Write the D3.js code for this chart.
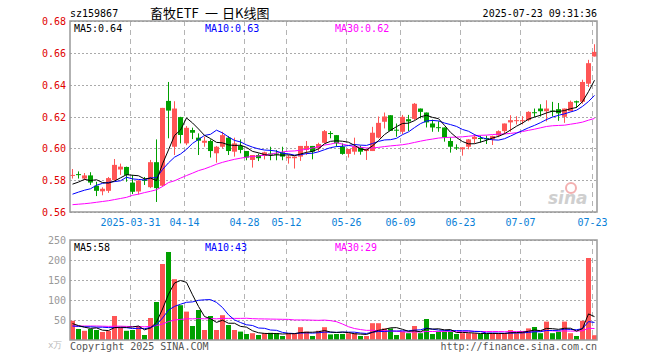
<!DOCTYPE html>
<html lang="zh">
<head>
<meta charset="UTF-8">
<title>畜牧ETF 日K线图</title>
<script src="https://cdn.jsdelivr.net/npm/d3@7"></script>
<style>
  body { margin: 0; background: #fff; }
  svg text { font-family: "DejaVu Sans Mono", monospace; }
</style>
</head>
<body>
<svg id="chart" width="660" height="360"></svg>
<script>
// daily candles, 2025-03-17 .. 2025-07-23 (88 trading days)
const opens = [
  .583,.5838,.581,.583,.5765,.573,.5733,.580,.5867,.5883,
  .5785,.5729,.5802,.5756,.5913,.5765,.6298,.601,.6196,.6031,
  .6115,.6067,.6035,.6046,.5969,.601,.6067,.5979,.6015,.5983,
  .5927,.5958,.5952,.5967,.5967,.5975,.5938,.5938,.5948,.599,
  .6015,.600,.6035,.6096,.6083,.601,.5965,.5979,.6004,.5983,
  .5983,.6067,.6167,.6208,.6117,.6104,.6183,.6185,.625,.6225,
  .6156,.6133,.6131,.6046,.6006,.5994,.601,.6058,.6065,.6065,
  .6058,.6081,.6108,.6163,.6175,.6175,.6177,.6227,.625,.6233,
  .6237,.6246,.6198,.6233,.6296,.6292,.6406,.6577
];
const highs = [
  .587,.5855,.5845,.585,.579,.5755,.582,.5933,.5904,.5885,
  .5833,.580,.582,.5927,.6056,.6254,.6417,.6296,.6198,.614,
  .613,.6094,.6073,.6056,.6015,.6104,.6077,.6067,.6056,.5983,
  .5958,.5967,.5979,.601,.599,.601,.5958,.5948,.6015,.6046,
  .6015,.6035,.6115,.6108,.6083,.6031,.5996,.6067,.6017,.5996,
  .6135,.620,.6225,.6208,.6156,.621,.621,.6285,.625,.6225,
  .618,.617,.6131,.6069,.6025,.6006,.6058,.609,.608,.608,
  .608,.6113,.6156,.6208,.6202,.6202,.6233,.625,.6277,.6302,
  .6292,.6285,.625,.630,.630,.6431,.6556,.6654
];
const lows = [
  .581,.581,.580,.577,.570,.5705,.572,.580,.5833,.579,
  .5713,.571,.577,.575,.5663,.5758,.6063,.5958,.6031,.602,
  .6058,.5958,.601,.5942,.591,.600,.5958,.5948,.5969,.5925,
  .5879,.592,.593,.5925,.5925,.5925,.5904,.5873,.5921,.5958,
  .5931,.598,.6031,.6063,.601,.596,.5942,.596,.596,.5927,
  .5983,.6063,.6125,.611,.6073,.609,.6108,.6177,.6188,.6131,
  .6104,.6104,.6042,.5973,.599,.5954,.5994,.603,.6035,.6027,
  .6021,.607,.609,.6104,.615,.615,.617,.6198,.620,.6169,
  .620,.6173,.616,.6233,.6254,.628,.6385,.6577
];
const closes = [
  .5833,.5832,.583,.5785,.5733,.5746,.5813,.5896,.5885,.5833,
  .5727,.5798,.5796,.5913,.575,.6254,.6237,.625,.6084,.6129,
  .6098,.6048,.6048,.5983,.601,.6083,.5983,.6031,.599,.5942,
  .5958,.5938,.5975,.5962,.5963,.5948,.5948,.5948,.6015,.6015,
  .5979,.6027,.6108,.6092,.6031,.5965,.5996,.601,.5979,.5996,
  .6098,.616,.620,.611,.6113,.6198,.6169,.628,.6229,.6163,
  .6131,.6129,.6069,.601,.600,.6006,.6056,.6073,.6061,.6057,
  .6077,.6108,.6156,.6177,.6177,.6177,.6229,.6223,.6233,.625,
  .6233,.622,.625,.6292,.6288,.6417,.6535,.6606
];
// volume, 万手
const volumes = [
  48,27.5,23,27.5,25,20,22.5,60,32,23,
  25,35,12.5,55,95,190,220,152,87,71,
  35,75,25,60,25,62,37.5,25,21,15,
  17,12.5,17,18,17,10,17,17,32,21,
  10,23,32,14,15,15,17,17,10,10,
  42,42,29,29,12.5,21,17,35,17,52.5,
  15,21,21,21,15,17,17,17,15,15,
  17,17,17,25,17,21,29,32.5,17,46,
  17,21,46,17,10,48,205,12
];

// moving-average values at the left edge, where the window starts before the chart
const ma5Head = [.5775,.5788,.5805,.5798];
const ma10Head = [.5712,.5725,.5737,.5746,.5768,.578,.5786,.5791,.5796];
const ma30Head = [
  .5646,.5649,.5652,.5656,.5661,.5666,.5671,.5678,.5685,.5692,
  .5705,.5712,.5722,.5730,.5740,.5760,.5785,.5796,.5813,.5829,
  .5844,.5860,.5871,.5885,.5900,.5912,.5922,.5931,.5938
];
const vma5Head = [41,36,32,29];
const vma10Head = [35,34,33,33,32,32,31,31,31];
const vma30Head = [
  35,35,35,35,35,34.5,34,34.5,34.5,34,
  33.5,33.5,33,34,36,40,46,50,51.5,53,
  53,53.5,53,53.5,53,54,54,54,54
];

const dateTickIdx = [10, 19, 29, 36, 46, 55, 65, 75, 87];
const dateTickLabels = ["2025-03-31","04-14","04-28","05-12","05-26","06-09","06-23","07-07","07-23"];
const priceTicks = [0.56, 0.58, 0.60, 0.62, 0.64, 0.66, 0.68];
const volTicks = [50, 100, 150, 200, 250];
const maLabels = ["MA5:0.64", "MA10:0.63", "MA30:0.62"];
const volMaLabels = ["MA5:58", "MA10:43", "MA30:29"];

const RED = "#ff5555", GREEN = "#00a000";
const maColors = ["#000000", "#0000ff", "#ff00ff"];

function movingAvg(vals, n, head) {
  return vals.map(function(v, i) {
    if (i < n - 1) return head[i];
    return d3.mean(vals.slice(i - n + 1, i + 1));
  });
}

const svg = d3.select("#chart");
const left = 70, right = 597;
const x = d3.scaleLinear().domain([0, closes.length - 1]).range([72, 72 + 6 * (closes.length - 1)]);
const y = d3.scaleLinear().domain([0.56, 0.68]).range([212, 21]);
const yv = d3.scaleLinear().domain([0, 250]).range([340, 240]);

// header
svg.append("text").attr("x", left).attr("y", 17).attr("font-size", 10).attr("fill", "#000").text("sz159867");
const cjk = "'Noto Sans CJK SC', sans-serif";
[["畜牧ETF", 150], ["一", 205], ["日K线图", 222]].forEach(function(p) {
  svg.append("text").attr("x", p[1]).attr("y", 18).attr("font-size", 13)
    .style("font-family", cjk).attr("fill", "#000").text(p[0]);
});
svg.append("text").attr("x", right).attr("y", 17).attr("font-size", 10).attr("text-anchor", "end")
  .attr("fill", "#000").text("2025-07-23 09:31:36");

function panel(top, bottom, yScale, ticks, tickColor, fmt) {
  const g = svg.append("g");
  // horizontal dotted grid
  g.selectAll(".hg").data(ticks).enter().append("line")
    .attr("x1", left).attr("x2", right)
    .attr("y1", d => Math.round(yScale(d)) + 0.5).attr("y2", d => Math.round(yScale(d)) + 0.5)
    .attr("stroke", "#aaa").attr("stroke-dasharray", "2,2");
  // vertical dashed grid
  g.selectAll(".vg").data(dateTickIdx).enter().append("line")
    .attr("x1", d => x(d) - 1.5).attr("x2", d => x(d) - 1.5)
    .attr("y1", top).attr("y2", bottom)
    .attr("stroke", "#b4b4b4").attr("stroke-dasharray", "5,4");
  // tick labels
  g.selectAll(".tl").data(ticks).enter().append("text")
    .attr("x", 66).attr("y", d => yScale(d) + 4)
    .attr("text-anchor", "end").attr("font-size", 10).attr("fill", tickColor)
    .text(fmt);
  return g;
}

panel(21, 212, y, priceTicks, "#e00000", d3.format(".2f"));
panel(240, 340, yv, volTicks, "#999", d => d);

// date labels
svg.selectAll(".dl").data(dateTickIdx).enter().append("text")
  .attr("x", d => x(d) - 1.5).attr("y", 226).attr("text-anchor", "middle")
  .attr("font-size", 10).attr("fill", "#0a7fd8")
  .text((d, i) => dateTickLabels[i]);

// sina watermark
svg.append("circle").attr("cx", 571).attr("cy", 188).attr("r", 5)
  .attr("fill", "none").attr("stroke", "#f3b0b0").attr("stroke-width", 2);
svg.append("text").attr("x", 548).attr("y", 204).attr("font-size", 17)
  .style("font-family", "'DejaVu Sans', sans-serif").style("font-style", "italic").style("font-weight", "bold")
  .attr("fill", "#cfcfcf").text("sina");

// candles
const idx = d3.range(closes.length);
const up = i => closes[i] >= opens[i];
const cg = svg.append("g");
cg.selectAll(".wick").data(idx).enter().append("line")
  .attr("x1", i => x(i) + 0.5).attr("x2", i => x(i) + 0.5)
  .attr("y1", i => y(highs[i])).attr("y2", i => y(lows[i]))
  .attr("stroke", i => up(i) ? RED : GREEN);
cg.selectAll(".body").data(idx).enter().append("rect")
  .attr("x", i => x(i) - 2).attr("width", 5)
  .attr("y", i => y(Math.max(opens[i], closes[i])))
  .attr("height", i => Math.max(1, Math.abs(y(opens[i]) - y(closes[i]))))
  .attr("fill", i => up(i) ? RED : GREEN);

// volume bars
svg.append("g").selectAll("rect").data(idx).enter().append("rect")
  .attr("x", i => x(i) - 2).attr("width", 5)
  .attr("y", i => yv(volumes[i])).attr("height", i => yv(0) - yv(volumes[i]))
  .attr("fill", i => up(i) ? RED : GREEN);

// moving averages, MA30 drawn first so MA5 sits on top
const priceMAs = [movingAvg(closes, 5, ma5Head), movingAvg(closes, 10, ma10Head), movingAvg(closes, 30, ma30Head)];
const volMAs = [movingAvg(volumes, 5, vma5Head), movingAvg(volumes, 10, vma10Head), movingAvg(volumes, 30, vma30Head)];
function drawLines(series, yScale) {
  const line = d3.line().x((d, i) => x(i) + 0.5).y(d => yScale(d));
  [2, 1, 0].forEach(function(k) {
    svg.append("path").datum(series[k]).attr("d", line)
      .attr("fill", "none").attr("stroke", maColors[k]).attr("stroke-width", 1);
  });
}
drawLines(volMAs, yv);
drawLines(priceMAs, y);

// borders
svg.append("rect").attr("x", left).attr("y", 21).attr("width", right - left).attr("height", 191)
  .attr("fill", "none").attr("stroke", "#999").attr("stroke-width", 1.5);
svg.append("rect").attr("x", left).attr("y", 240).attr("width", right - left).attr("height", 100)
  .attr("fill", "none").attr("stroke", "#999").attr("stroke-width", 1.5);

// MA legends
const legX = [74, 205, 335];
maLabels.forEach(function(t, k) {
  svg.append("text").attr("x", legX[k]).attr("y", 32).attr("font-size", 10).attr("fill", maColors[k]).text(t);
});
volMaLabels.forEach(function(t, k) {
  svg.append("text").attr("x", legX[k]).attr("y", 251).attr("font-size", 10).attr("fill", maColors[k]).text(t);
});

// footer
svg.append("text").attr("x", 48).attr("y", 348).attr("font-size", 9).attr("fill", "#bbb").text("x万");
svg.append("text").attr("x", left).attr("y", 350).attr("font-size", 10).attr("fill", "#555").text("Copyright 2025 SINA.COM");
svg.append("text").attr("x", right).attr("y", 350).attr("font-size", 10).attr("text-anchor", "end")
  .attr("fill", "#555").text("http://finance.sina.com.cn");
</script>
</body>
</html>
